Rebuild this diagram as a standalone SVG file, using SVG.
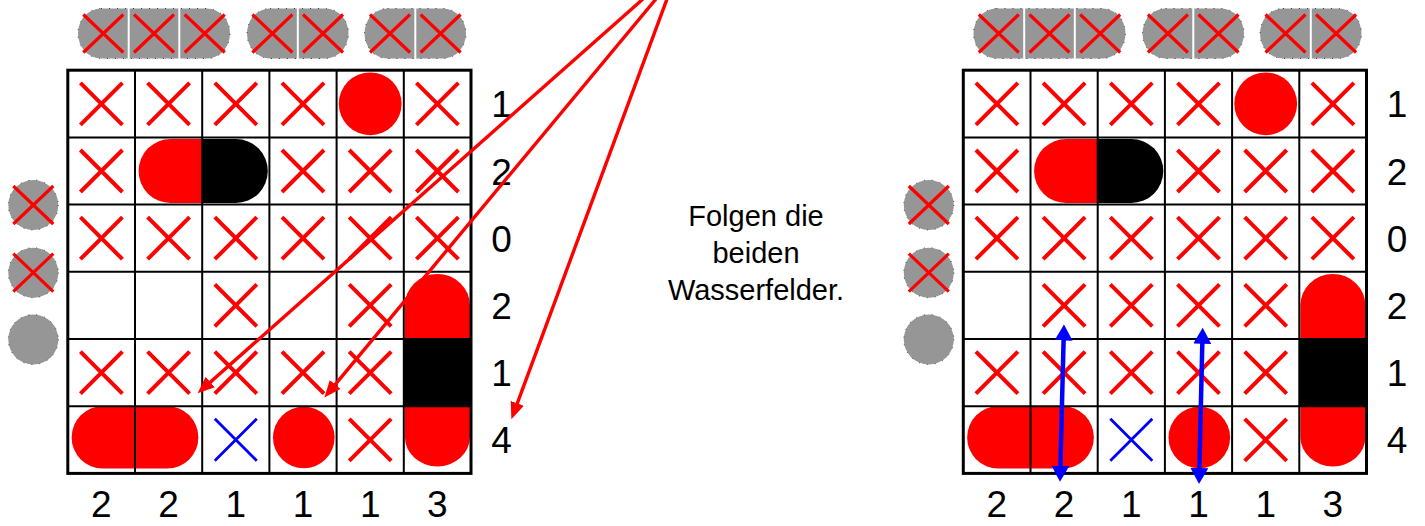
<svg xmlns="http://www.w3.org/2000/svg" width="1425" height="526" viewBox="0 0 1425 526">
  <style>
    .xr { stroke: #ff0000; stroke-width: 4; fill: none; }
    .xb { stroke: #0000ff; stroke-width: 2.8; fill: none; }
    .xg { stroke: #ff0000; stroke-width: 3.2; fill: none; }
    .spare { fill: #969696; stroke: #3a3a3a; stroke-width: 1; stroke-dasharray: 1 7; }
    .sep { stroke: #ffffff; stroke-width: 2; }
    .red { fill: #ff0000; }
    .blk { fill: #000000; }
    .frame { fill: none; stroke: #000000; stroke-width: 3; }
    .rule { fill: none; stroke: #000000; stroke-width: 2; }
    .num { font-family: "Liberation Sans", Arial, sans-serif; font-size: 37px; fill: #000000; text-anchor: middle; }
    .caption { font-family: "Liberation Sans", Arial, sans-serif; font-size: 29px; fill: #000000; text-anchor: middle; }
    .pointer { stroke: #ff0000; stroke-width: 3.4; fill: none; }
    .span { stroke: #0000ff; stroke-width: 4.5; fill: none; }
  </style>
  <defs>
    <path id="xr" class="xr" d="M-21,-21 L21,21 M21,-21 L-21,21"/>
    <path id="xb" class="xb" d="M-21,-21 L21,21 M21,-21 L-21,21"/>
    <path id="xg" class="xg" d="M-20,-19 L20,19 M20,-19 L-20,19"/>
    <marker id="head-red" viewBox="0 0 17 14" refX="8" refY="7" markerWidth="17" markerHeight="14" orient="auto" markerUnits="userSpaceOnUse">
      <path d="M0,0 L17,7 L0,14 Z" fill="#ff0000"/>
    </marker>
    <marker id="head-blue" viewBox="0 0 16 18" refX="8" refY="9" markerWidth="16" markerHeight="18" orient="auto-start-reverse" markerUnits="userSpaceOnUse">
      <path d="M0,0 L16,9 L0,18 Z" fill="#0000ff"/>
    </marker>
  </defs>

  <rect width="1425" height="526" fill="#ffffff"/>

  <!-- ===== left board ===== -->
  <g id="board-left">
    <!-- fleet still to place -->
    <g id="fleet-left">
      <rect class="spare" x="78" y="8.5" width="152" height="50" rx="23" ry="25"/>
      <line class="sep" x1="128.7" y1="8" x2="128.7" y2="59"/>
      <line class="sep" x1="179.3" y1="8" x2="179.3" y2="59"/>
      <use href="#xg" x="103.3" y="33.5"/>
      <use href="#xg" x="154" y="33.5"/>
      <use href="#xg" x="204.7" y="33.5"/>
      <rect class="spare" x="247" y="8.5" width="101.5" height="50" rx="23" ry="25"/>
      <line class="sep" x1="297.8" y1="8" x2="297.8" y2="59"/>
      <use href="#xg" x="272.4" y="33.5"/>
      <use href="#xg" x="323" y="33.5"/>
      <rect class="spare" x="364.5" y="8.5" width="101.5" height="50" rx="23" ry="25"/>
      <line class="sep" x1="415.3" y1="8" x2="415.3" y2="59"/>
      <use href="#xg" x="390" y="33.5"/>
      <use href="#xg" x="440.6" y="33.5"/>
      <circle class="spare" cx="33.3" cy="205" r="25"/>
      <use href="#xg" x="33.3" y="205"/>
      <circle class="spare" cx="33.3" cy="272.7" r="25"/>
      <use href="#xg" x="33.3" y="272.7"/>
      <circle class="spare" cx="33.3" cy="339.5" r="25"/>
    </g>
    <!-- ship pieces -->
    <g id="ships-left">
      <circle class="red" cx="370.2" cy="103.8" r="31.4"/>
      <path class="red" d="M202.2,139 L170.6,139 A32 32 0 0 0 170.6,203 L202.2,203 Z"/>
      <path class="blk" d="M202.2,139 L235.8,139 A32 32 0 0 1 235.8,203 L202.2,203 Z"/>
      <path class="red" d="M404.9,339 L404.9,305.4 A32.5 31.5 0 0 1 469.9,305.4 L469.9,339 Z"/>
      <rect class="blk" x="403.8" y="339" width="67.2" height="67.2"/>
      <path class="red" d="M404.9,406.2 L404.9,437 A32.5 29.5 0 0 0 469.9,437 L469.9,406.2 Z"/>
      <path class="red" d="M135,406.2 L102.8,406.2 A31.2 31.2 0 0 0 102.8,468.6 L135,468.6 Z"/>
      <path class="red" d="M135,406.2 L167.2,406.2 A31.2 31.2 0 0 1 167.2,468.6 L135,468.6 Z"/>
      <circle class="red" cx="303.8" cy="437.5" r="30.8"/>
    </g>
    <!-- water marks -->
    <g id="marks-left">
      <use href="#xr" x="101.4" y="103.8"/><use href="#xr" x="168.6" y="103.8"/><use href="#xr" x="235.8" y="103.8"/><use href="#xr" x="303" y="103.8"/><use href="#xr" x="437.4" y="103.8"/>
      <use href="#xr" x="101.4" y="171"/><use href="#xr" x="303" y="171"/><use href="#xr" x="370.2" y="171"/><use href="#xr" x="437.4" y="171"/>
      <use href="#xr" x="101.4" y="238.2"/><use href="#xr" x="168.6" y="238.2"/><use href="#xr" x="235.8" y="238.2"/><use href="#xr" x="303" y="238.2"/><use href="#xr" x="370.2" y="238.2"/><use href="#xr" x="437.4" y="238.2"/>
      <use href="#xr" x="235.8" y="305.4"/><use href="#xr" x="370.2" y="305.4"/>
      <use href="#xr" x="101.4" y="372.6"/><use href="#xr" x="168.6" y="372.6"/><use href="#xr" x="235.8" y="372.6"/><use href="#xr" x="303" y="372.6"/><use href="#xr" x="370.2" y="372.6"/>
      <use href="#xb" x="235.8" y="439.8"/><use href="#xr" x="370.2" y="439.8"/>
    </g>
    <!-- grid -->
    <g id="grid-left">
      <path class="rule" d="M135,70.2 V473.4 M202.2,70.2 V473.4 M269.4,70.2 V473.4 M336.6,70.2 V473.4 M403.8,70.2 V473.4 M67.8,137.4 H471 M67.8,204.6 H471 M67.8,271.8 H471 M67.8,339 H471 M67.8,406.2 H471"/>
      <rect class="frame" x="67.8" y="70.2" width="403.2" height="403.2"/>
    </g>
    <!-- clues -->
    <g id="clues-left">
      <text class="num" x="501.5" y="117.3">1</text>
      <text class="num" x="501.5" y="184.5">2</text>
      <text class="num" x="501.5" y="251.7">0</text>
      <text class="num" x="501.5" y="318.9">2</text>
      <text class="num" x="501.5" y="386.1">1</text>
      <text class="num" x="501.5" y="453.3">4</text>
      <text class="num" x="101.4" y="517">2</text>
      <text class="num" x="168.6" y="517">2</text>
      <text class="num" x="235.8" y="517">1</text>
      <text class="num" x="303" y="517">1</text>
      <text class="num" x="370.2" y="517">1</text>
      <text class="num" x="437.4" y="517">3</text>
    </g>
  </g>

  <!-- ===== caption ===== -->
  <g id="caption">
    <text class="caption" x="756" y="226">Folgen die</text>
    <text class="caption" x="756" y="263">beiden</text>
    <text class="caption" x="756" y="300">Wasserfelder.</text>
  </g>

  <!-- ===== right board ===== -->
  <g id="board-right" transform="translate(895.5 0)">
    <g id="fleet-right">
      <rect class="spare" x="78" y="8.5" width="152" height="50" rx="23" ry="25"/>
      <line class="sep" x1="128.7" y1="8" x2="128.7" y2="59"/>
      <line class="sep" x1="179.3" y1="8" x2="179.3" y2="59"/>
      <use href="#xg" x="103.3" y="33.5"/>
      <use href="#xg" x="154" y="33.5"/>
      <use href="#xg" x="204.7" y="33.5"/>
      <rect class="spare" x="247" y="8.5" width="101.5" height="50" rx="23" ry="25"/>
      <line class="sep" x1="297.8" y1="8" x2="297.8" y2="59"/>
      <use href="#xg" x="272.4" y="33.5"/>
      <use href="#xg" x="323" y="33.5"/>
      <rect class="spare" x="364.5" y="8.5" width="101.5" height="50" rx="23" ry="25"/>
      <line class="sep" x1="415.3" y1="8" x2="415.3" y2="59"/>
      <use href="#xg" x="390" y="33.5"/>
      <use href="#xg" x="440.6" y="33.5"/>
      <circle class="spare" cx="33.3" cy="205" r="25"/>
      <use href="#xg" x="33.3" y="205"/>
      <circle class="spare" cx="33.3" cy="272.7" r="25"/>
      <use href="#xg" x="33.3" y="272.7"/>
      <circle class="spare" cx="33.3" cy="339.5" r="25"/>
    </g>
    <g id="ships-right">
      <circle class="red" cx="370.2" cy="103.8" r="31.4"/>
      <path class="red" d="M202.2,139 L170.6,139 A32 32 0 0 0 170.6,203 L202.2,203 Z"/>
      <path class="blk" d="M202.2,139 L235.8,139 A32 32 0 0 1 235.8,203 L202.2,203 Z"/>
      <path class="red" d="M404.9,339 L404.9,305.4 A32.5 31.5 0 0 1 469.9,305.4 L469.9,339 Z"/>
      <rect class="blk" x="403.8" y="339" width="67.2" height="67.2"/>
      <path class="red" d="M404.9,406.2 L404.9,437 A32.5 29.5 0 0 0 469.9,437 L469.9,406.2 Z"/>
      <path class="red" d="M135,406.2 L102.8,406.2 A31.2 31.2 0 0 0 102.8,468.6 L135,468.6 Z"/>
      <path class="red" d="M135,406.2 L167.2,406.2 A31.2 31.2 0 0 1 167.2,468.6 L135,468.6 Z"/>
      <circle class="red" cx="303.8" cy="437.5" r="30.8"/>
    </g>
    <g id="marks-right">
      <use href="#xr" x="101.4" y="103.8"/><use href="#xr" x="168.6" y="103.8"/><use href="#xr" x="235.8" y="103.8"/><use href="#xr" x="303" y="103.8"/><use href="#xr" x="437.4" y="103.8"/>
      <use href="#xr" x="101.4" y="171"/><use href="#xr" x="303" y="171"/><use href="#xr" x="370.2" y="171"/><use href="#xr" x="437.4" y="171"/>
      <use href="#xr" x="101.4" y="238.2"/><use href="#xr" x="168.6" y="238.2"/><use href="#xr" x="235.8" y="238.2"/><use href="#xr" x="303" y="238.2"/><use href="#xr" x="370.2" y="238.2"/><use href="#xr" x="437.4" y="238.2"/>
      <use href="#xr" x="168.6" y="305.4"/><use href="#xr" x="235.8" y="305.4"/><use href="#xr" x="303" y="305.4"/><use href="#xr" x="370.2" y="305.4"/>
      <use href="#xr" x="101.4" y="372.6"/><use href="#xr" x="168.6" y="372.6"/><use href="#xr" x="235.8" y="372.6"/><use href="#xr" x="303" y="372.6"/><use href="#xr" x="370.2" y="372.6"/>
      <use href="#xb" x="235.8" y="439.8"/><use href="#xr" x="370.2" y="439.8"/>
    </g>
    <g id="grid-right">
      <path class="rule" d="M135,70.2 V473.4 M202.2,70.2 V473.4 M269.4,70.2 V473.4 M336.6,70.2 V473.4 M403.8,70.2 V473.4 M67.8,137.4 H471 M67.8,204.6 H471 M67.8,271.8 H471 M67.8,339 H471 M67.8,406.2 H471"/>
      <rect class="frame" x="67.8" y="70.2" width="403.2" height="403.2"/>
    </g>
    <g id="clues-right">
      <text class="num" x="501.5" y="117.3">1</text>
      <text class="num" x="501.5" y="184.5">2</text>
      <text class="num" x="501.5" y="251.7">0</text>
      <text class="num" x="501.5" y="318.9">2</text>
      <text class="num" x="501.5" y="386.1">1</text>
      <text class="num" x="501.5" y="453.3">4</text>
      <text class="num" x="101.4" y="517">2</text>
      <text class="num" x="168.6" y="517">2</text>
      <text class="num" x="235.8" y="517">1</text>
      <text class="num" x="303" y="517">1</text>
      <text class="num" x="370.2" y="517">1</text>
      <text class="num" x="437.4" y="517">3</text>
    </g>
  </g>

  <!-- ===== connectors ===== -->
  <g id="connectors">
    <line class="pointer" x1="643" y1="-1" x2="204.3" y2="387.4" marker-end="url(#head-red)"/>
    <line class="pointer" x1="656" y1="-1" x2="330.1" y2="390.6" marker-end="url(#head-red)"/>
    <line class="pointer" x1="667" y1="-1" x2="514.5" y2="410.8" marker-end="url(#head-red)"/>
    <line class="span" x1="1063.8" y1="332.5" x2="1060.2" y2="473.7" marker-start="url(#head-blue)" marker-end="url(#head-blue)"/>
    <line class="span" x1="1202.5" y1="335.7" x2="1199.2" y2="476" marker-start="url(#head-blue)" marker-end="url(#head-blue)"/>
  </g>
</svg>
